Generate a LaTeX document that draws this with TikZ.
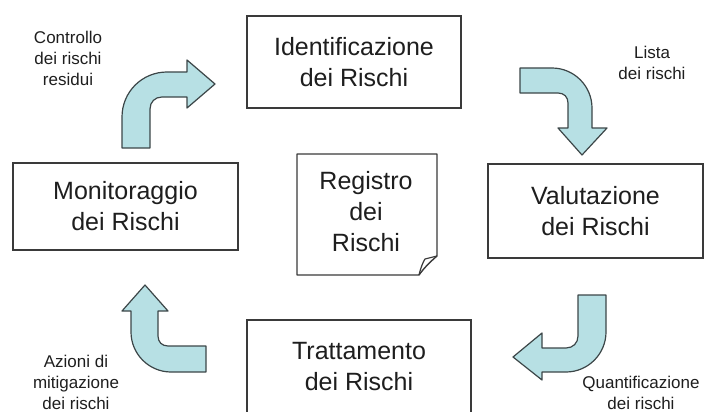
\documentclass[tikz,border=0pt]{standalone}
\usepackage{fontspec}
\setmainfont{Liberation Sans}
\definecolor{boxc}{RGB}{58,58,58}
\definecolor{txt}{RGB}{30,30,30}
\definecolor{arrfill}{RGB}{183,224,228}
\definecolor{arrline}{RGB}{60,70,72}
\begin{document}
\begin{tikzpicture}[x=1pt,y=-1pt,
  stagebox/.style={draw=boxc, line width=1.6pt, fill=white, inner sep=0pt, align=center,
    text=txt, font=\fontsize{25}{31}\selectfont},
  smalllabel/.style={inner sep=0pt, align=center, text=txt, font=\fontsize{17}{21}\selectfont},
  blockarrow/.style={fill=arrfill, draw=arrline, line width=1.2pt, line join=round}]
\useasboundingbox (0,0) rectangle (707,412);
\clip (0,0) rectangle (707,412);

% stage boxes
\node[stagebox, minimum width=214pt, minimum height=92pt] (ident) at (354,62) {Identificazione\\dei Rischi};
\node[stagebox, minimum width=215pt, minimum height=94pt] (valut) at (595.5,211) {Valutazione\\dei Rischi};
\node[stagebox, minimum width=225pt, minimum height=87pt] (monit) at (125.5,206.5) {Monitoraggio\\dei Rischi};
\node[stagebox, minimum width=224pt, minimum height=94pt] (tratt) at (359,367) {Trattamento\\dei Rischi};

% register note
\draw[boxc, line width=1.4pt, fill=white, line join=round]
  (297,154) -- (437,154) -- (437,256) .. controls (430,262) and (424,268) .. (419,275) -- (297,275) -- cycle;
\draw[boxc, line width=1.2pt, line join=round]
  (419,275) .. controls (421,267) and (423,262) .. (425,259) -- (437,256);
\node[smalllabel, font=\fontsize{25}{31}\selectfont] (reg) at (366,212) {Registro\\dei\\Rischi};

% block arrows
\draw[blockarrow] (122,148) -- (122,117) .. controls (122,92) and (142,72) .. (167,72) -- (187,72)
  -- (187,60) -- (215,84) -- (187,108) -- (187,97) -- (162,97)
  .. controls (155,97) and (150,102) .. (150,109) -- (150,148) -- cycle;
\draw[blockarrow] (520,68) -- (552,68) .. controls (574,68) and (592,86) .. (592,108) -- (592,128)
  -- (607,128) -- (582,155) -- (558,128) -- (568,128) -- (568,103)
  .. controls (568,97) and (564,93) .. (558,93) -- (520,93) -- cycle;
\draw[blockarrow] (578,295) -- (606,295) -- (606,332) .. controls (606,354) and (588,372) .. (566,372)
  -- (542,372) -- (542,380) -- (513,357) -- (542,333) -- (542,348) -- (566,348)
  .. controls (573,348) and (578,343) .. (578,336) -- cycle;
\draw[blockarrow] (145,285) -- (168,311) -- (158,311) -- (158,336)
  .. controls (158,342) and (162,346) .. (168,346) -- (206,346) -- (206,372) -- (171,372)
  .. controls (149,372) and (131,354) .. (131,332) -- (131,311) -- (122,311) -- cycle;

% labels
\node[smalllabel] (lctrl) at (68,58) {Controllo\\dei rischi\\residui};
\node[smalllabel] (llista) at (652,63) {Lista\\dei rischi};
\node[smalllabel] (lquant) at (641,393) {Quantificazione\\dei rischi};
\node[smalllabel] (lazioni) at (76,382) {Azioni di\\mitigazione\\dei rischi};
\end{tikzpicture}
\end{document}
